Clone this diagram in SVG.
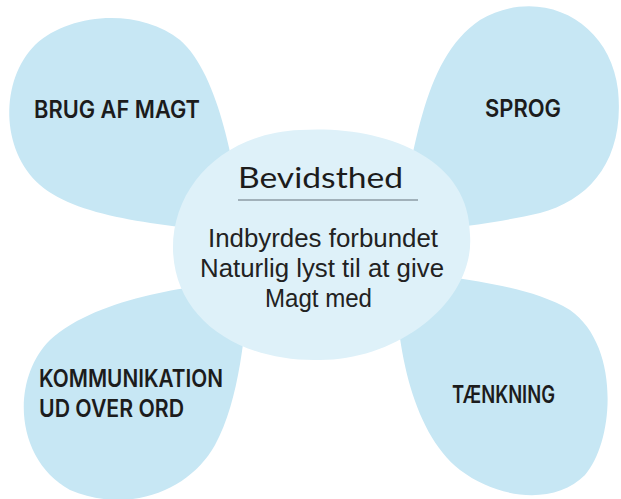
<svg xmlns="http://www.w3.org/2000/svg" width="621" height="499" viewBox="0 0 621 499">
  <style>
    .petal { fill: #c7e7f4; }
    .center { fill: #def1f9; }
    .lbl { font-family: "Inter", "Lato", "Liberation Sans", sans-serif; font-weight: 600; font-size: 24px; fill: #1c1c1c; }
    .title { font-family: "Lato", "Open Sans", sans-serif; font-weight: 400; font-size: 29px; fill: #1c1c1c; }
    .body { font-family: "Liberation Sans", Arial, sans-serif; font-size: 25px; fill: #222222; }
    .rule { stroke: #8c9ba5; stroke-width: 1.5; }
  </style>
  <rect width="621" height="499" fill="#ffffff"/>
  <g id="node-brug-af-magt">
    <path class="petal" d="M245,235 C235,170 220,75 180,40 C140,8 70,12 35,45 C0,80 0,150 40,185 C80,220 170,225 245,235 Z"/>
    <text class="lbl" x="34" y="118" textLength="166" lengthAdjust="spacingAndGlyphs">BRUG AF MAGT</text>
  </g>
  <g id="node-sprog">
    <path class="petal" d="M395,235 C415,160 420,60 480,20 C540,-15 610,20 618,90 C625,160 590,200 540,213 C490,225 430,230 395,235 Z"/>
    <text class="lbl" x="485" y="117" textLength="76" lengthAdjust="spacingAndGlyphs">SPROG</text>
  </g>
  <g id="node-kommunikation">
    <path class="petal" d="M250,280 C200,285 100,295 50,340 C10,380 15,460 70,490 C130,515 190,490 215,445 C240,400 245,330 250,280 Z"/>
    <text class="lbl" x="39" y="387" textLength="184" lengthAdjust="spacingAndGlyphs">KOMMUNIKATION</text>
    <text class="lbl" x="39" y="417" textLength="145" lengthAdjust="spacingAndGlyphs">UD OVER ORD</text>
  </g>
  <g id="node-taenkning">
    <path class="petal" d="M395,265 C440,280 520,280 570,310 C620,345 615,440 585,475 C555,505 500,500 460,470 C410,430 395,340 395,265 Z"/>
    <text class="lbl" x="452" y="403" textLength="103" lengthAdjust="spacingAndGlyphs">TÆNKNING</text>
  </g>
  <g id="node-bevidsthed">
    <path class="center" d="M300,130 C380,125 470,155 470,235 C475,300 400,360 320,360 C240,362 175,320 173,250 C172,185 225,133 300,130 Z"/>
    <text class="title" x="238" y="188" textLength="165" lengthAdjust="spacingAndGlyphs">Bevidsthed</text>
    <line class="rule" x1="238" y1="200" x2="418" y2="200"/>
    <text class="body" x="208" y="247" textLength="230" lengthAdjust="spacingAndGlyphs">Indbyrdes forbundet</text>
    <text class="body" x="200" y="277" textLength="244" lengthAdjust="spacingAndGlyphs">Naturlig lyst til at give</text>
    <text class="body" x="265" y="307" textLength="107" lengthAdjust="spacingAndGlyphs">Magt med</text>
  </g>
  <g id="connectors"/>
</svg>
